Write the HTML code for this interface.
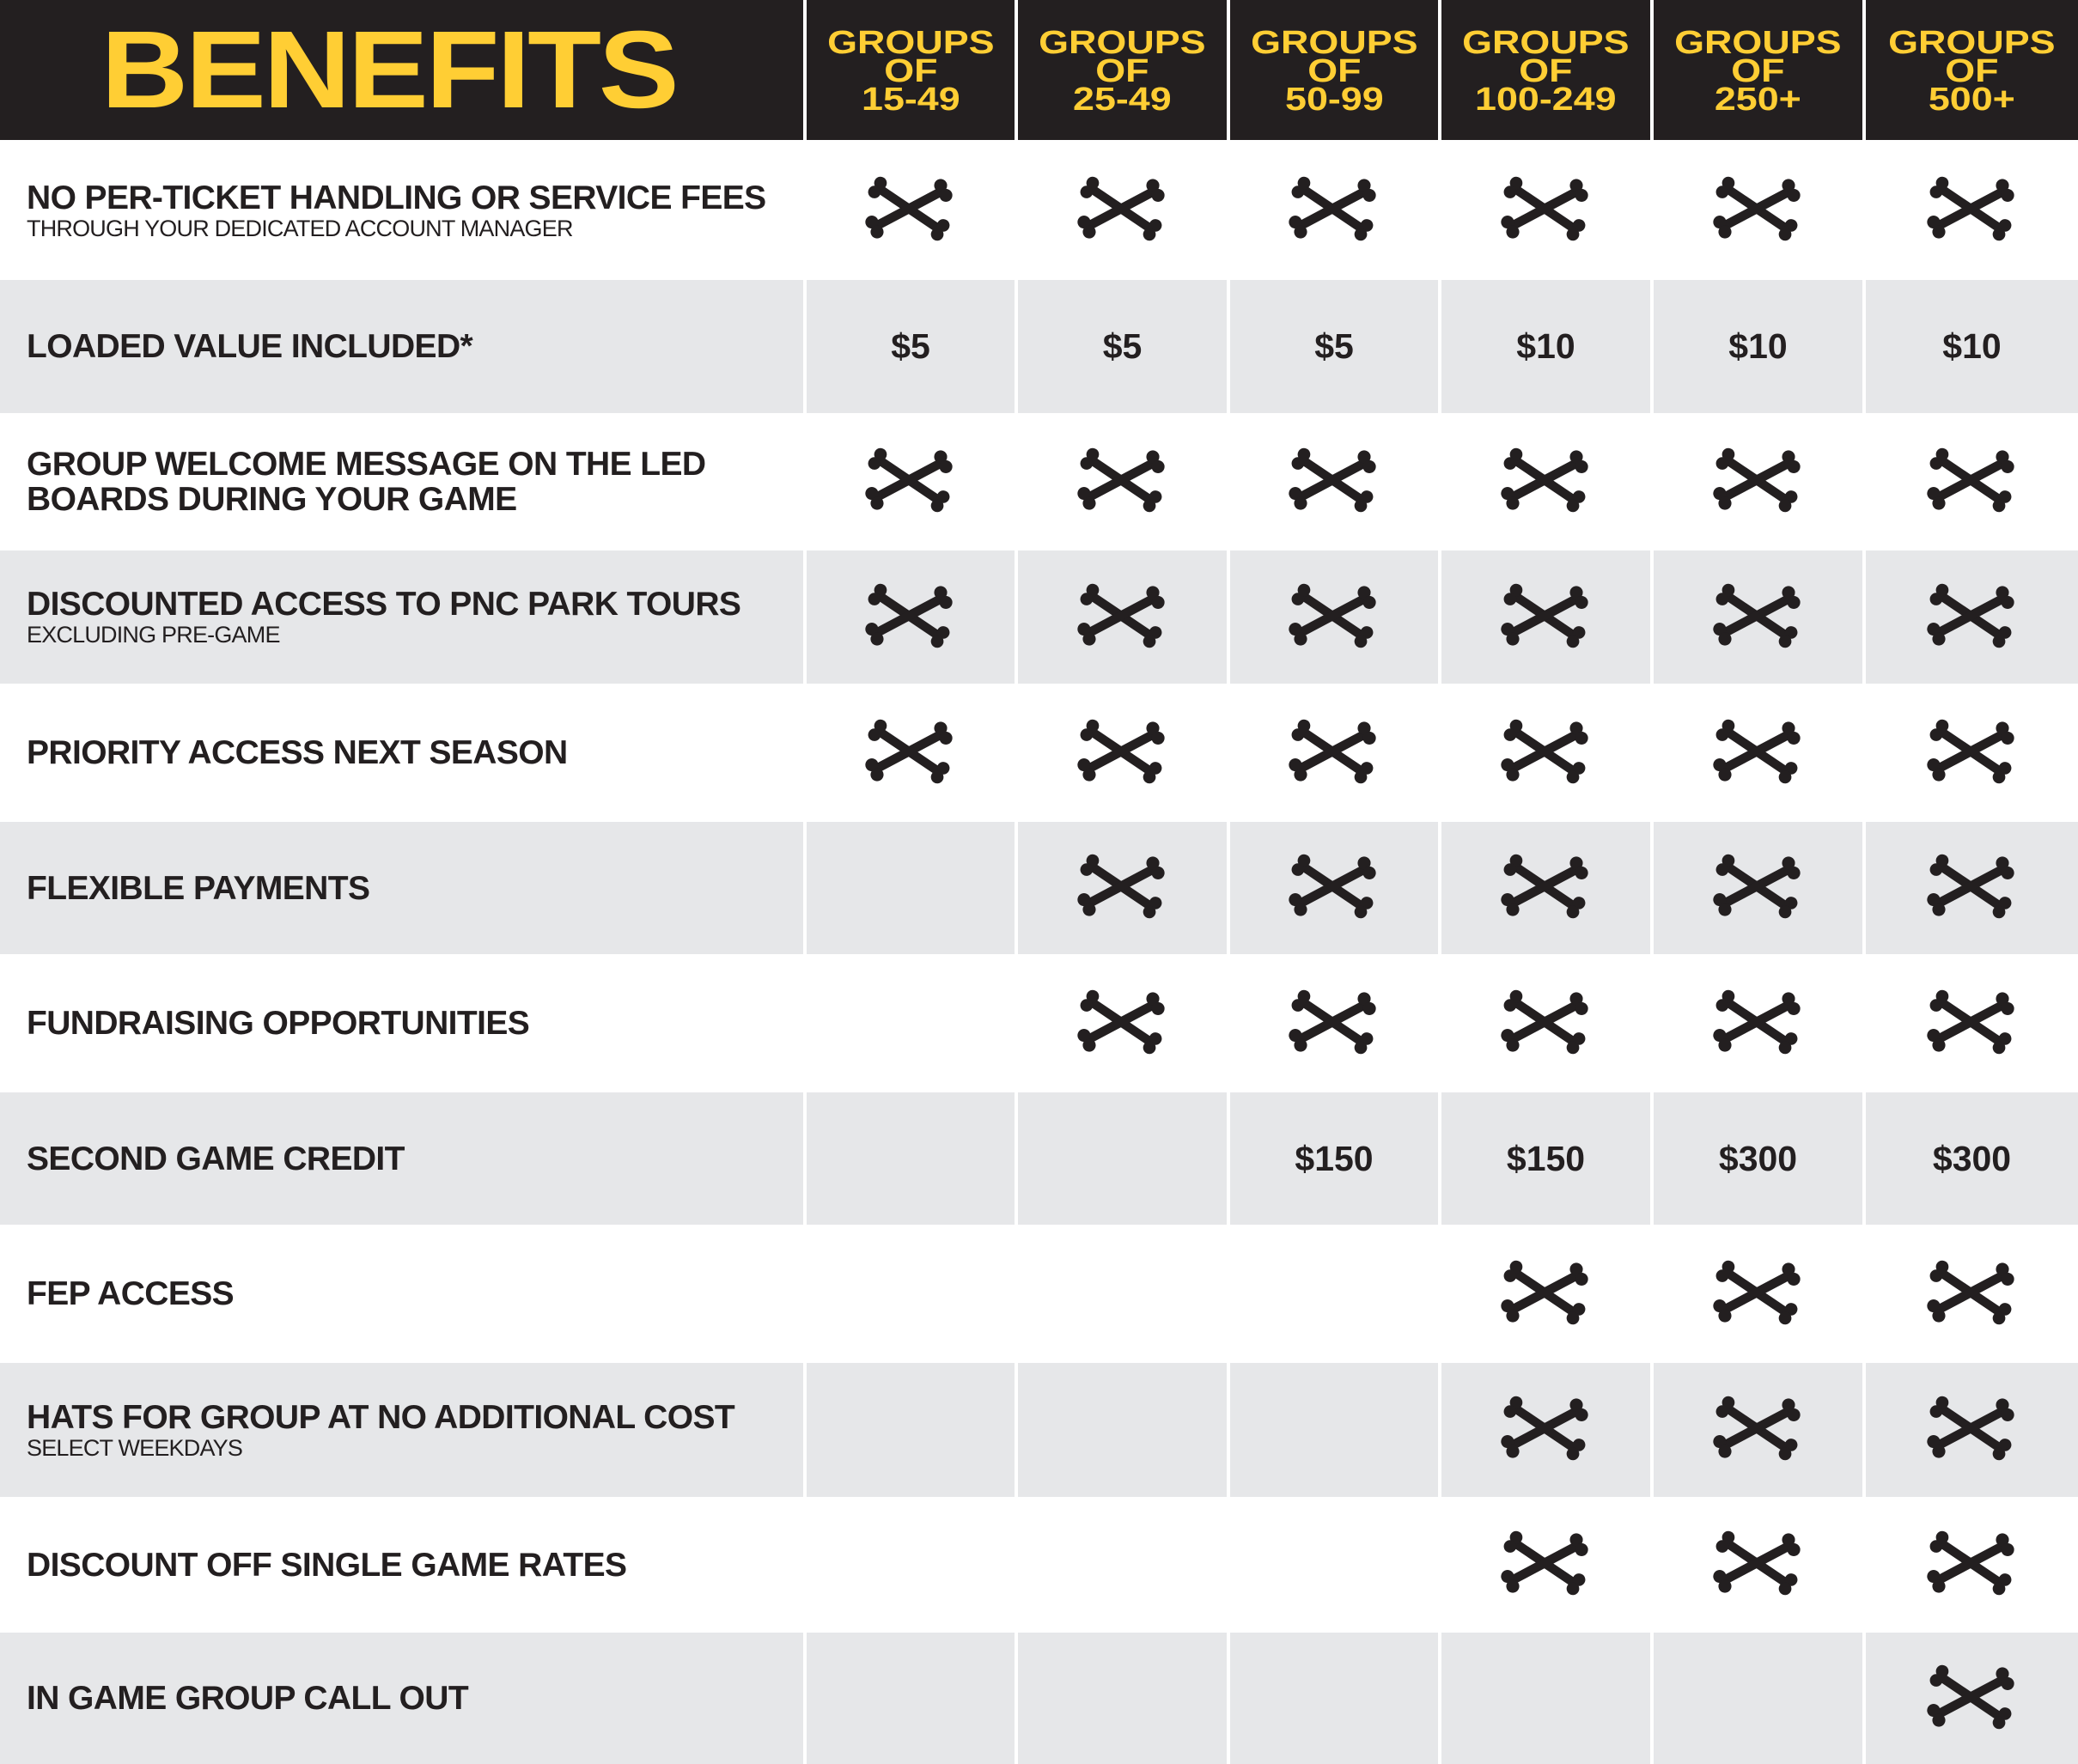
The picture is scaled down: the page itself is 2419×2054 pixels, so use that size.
<!DOCTYPE html>
<html><head><meta charset="utf-8"><style>
body{margin:0;width:2419px;height:2054px;position:relative;background:#fff;overflow:hidden;font-family:"Liberation Sans",sans-serif;color:#231f20}
.c{position:absolute}
.h{background:#231f20;color:#ffce34;font-weight:900;text-align:center;display:flex;align-items:center;justify-content:center}
.hh{font-size:38px;line-height:33px;transform:scaleX(1.18);letter-spacing:0px;padding-top:4px}
.g{background:#e6e7e9}
.lab{position:absolute;left:31px;display:flex;flex-direction:column;justify-content:center}
.t{font-weight:bold;font-size:39px;line-height:41px;letter-spacing:-0.6px;text-transform:uppercase}
.s{font-size:27px;line-height:30px;letter-spacing:-0.8px}
.v{position:absolute;font-weight:bold;font-size:41px;text-align:center;display:flex;align-items:center;justify-content:center}
svg.b{position:absolute;width:110px;height:82px}
</style></head><body>
<svg width="0" height="0" style="position:absolute"><defs><g id="bone"><line x1="-40" y1="0" x2="40" y2="0" stroke="#231f20" stroke-width="10" stroke-linecap="round"/><circle cx="-42" cy="-6" r="7" fill="#231f20"/><circle cx="-42" cy="6" r="7" fill="#231f20"/><circle cx="42" cy="-6" r="7" fill="#231f20"/><circle cx="42" cy="6" r="7" fill="#231f20"/></g></defs></svg>
<div id="root"></div>
<script>
var L=[939,1185,1432,1678,1925,2172],W=[242,243,242,243,243,247];
var R=[164,326,481,641,796,957,1111,1272,1426,1587,1743,1901,2054];
var H=["15-49","25-49","50-99","100-249","250+","500+"];
var rows=[
["No per-ticket handling or service fees","THROUGH YOUR DEDICATED ACCOUNT MANAGER","XXXXXX"],
["Loaded value included*","",["$5","$5","$5","$10","$10","$10"]],
["Group welcome message on the LED<br>boards during your game","","XXXXXX"],
["Discounted access to PNC Park tours","EXCLUDING PRE-GAME","XXXXXX"],
["Priority access next season","","XXXXXX"],
["Flexible payments","","-XXXXX"],
["Fundraising opportunities","","-XXXXX"],
["Second game credit","",["","","$150","$150","$300","$300"]],
["FEP access","","---XXX"],
["Hats for group at no additional cost","SELECT WEEKDAYS","---XXX"],
["Discount off single game rates","","---XXX"],
["In game group call out","","-----X"]];
var h='<div class="c h" style="left:0;top:0;width:935px;height:163px"><span style="font-size:128px;line-height:128px;transform:scaleX(1.1);margin-left:-31px;letter-spacing:-3px">BENEFITS</span></div>';
for(var i=0;i<6;i++)h+='<div class="c h" style="left:'+L[i]+'px;top:0;width:'+W[i]+'px;height:163px"><div class="hh">GROUPS<br>OF<br>'+H[i]+'</div></div>';
rows.forEach(function(r,k){
 var y=R[k],hh=R[k+1]-R[k],gray=k%2==1;
 if(gray){h+='<div class="c g" style="left:0;top:'+y+'px;width:935px;height:'+hh+'px"></div>';
  for(var i=0;i<6;i++)h+='<div class="c g" style="left:'+L[i]+'px;top:'+y+'px;width:'+W[i]+'px;height:'+hh+'px"></div>';}
 h+='<div class="lab" style="top:'+y+'px;height:'+hh+'px"><div class="t">'+r[0]+'</div>'+(r[1]?'<div class="s">'+r[1]+'</div>':'')+'</div>';
 for(var i=0;i<6;i++){
  var cx=L[i]+W[i]/2-2;
  if(typeof r[2]=="string"){ if(r[2][i]=="X")h+='<svg class="b" viewBox="0 0 110 82" style="left:'+(cx-55)+'px;top:'+(y+hh/2-43)+'px"><use href="#bone" transform="translate(55,41) rotate(34) scale(1.05)"/><use href="#bone" transform="translate(55,41) rotate(-28) scale(1.08)"/></svg>';}
  else if(r[2][i])h+='<div class="v" style="left:'+L[i]+'px;top:'+y+'px;width:'+W[i]+'px;height:'+hh+'px">'+r[2][i]+'</div>';
 }
});
document.getElementById('root').innerHTML=h;
</script>
</body></html>
